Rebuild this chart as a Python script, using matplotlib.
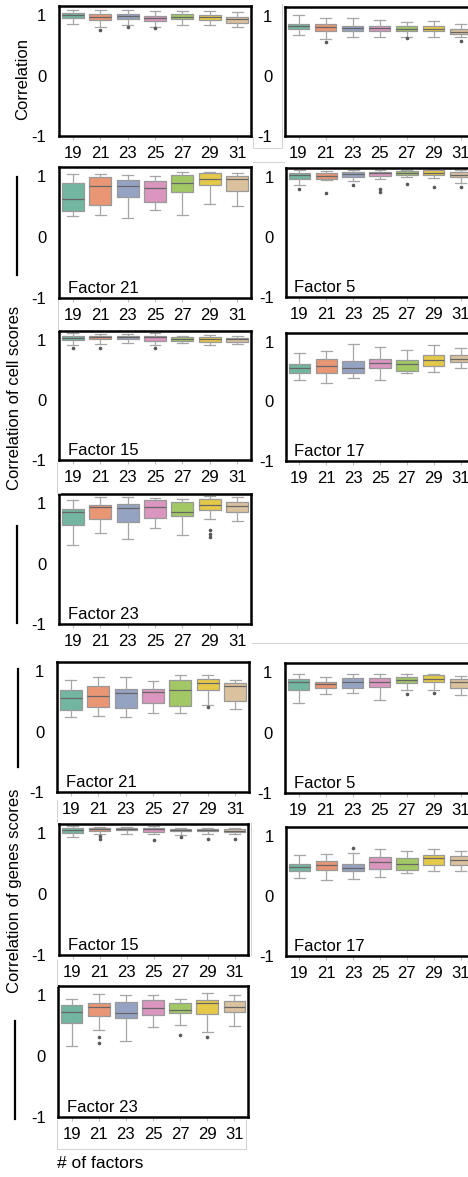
import colorsys
import numpy as np
import matplotlib
matplotlib.use("Agg")
import matplotlib.pyplot as plt
import matplotlib.colors as mcolors
from matplotlib.lines import Line2D

plt.rcParams['font.family'] = ['Liberation Sans', 'DejaVu Sans']
plt.rcParams['axes.unicode_minus'] = False

W, H = 468, 1177

n_factors = ["19", "21", "23", "25", "27", "29", "31"]
set2 = ["#66c2a5", "#fc8d62", "#8da0cb", "#e78ac3", "#a6d854", "#ffd92f", "#e5c494"]

# each row: whisker low, q1, median, q3, whisker high
corr_left = [[0.85, 0.95, 1.00, 1.03, 1.09], [0.80, 0.92, 0.97, 1.01, 1.08],
             [0.84, 0.94, 0.99, 1.02, 1.08], [0.81, 0.90, 0.95, 0.99, 1.06],
             [0.84, 0.93, 0.97, 1.01, 1.07], [0.84, 0.92, 0.96, 1.00, 1.07],
             [0.80, 0.87, 0.93, 0.96, 1.05]]
corr_left_fl = [[], [0.76], [0.81], [0.78], [], [], []]

corr_right = [[0.69, 0.79, 0.84, 0.87, 1.02], [0.62, 0.75, 0.82, 0.86, 0.96],
              [0.65, 0.75, 0.80, 0.84, 0.96], [0.65, 0.75, 0.80, 0.84, 0.94],
              [0.65, 0.75, 0.79, 0.83, 0.90], [0.65, 0.75, 0.79, 0.83, 0.92],
              [0.65, 0.70, 0.74, 0.78, 0.87]]
corr_right_fl = [[], [0.57], [], [], [0.64], [], [0.59]]

cell_f21 = [[0.35, 0.42, 0.63, 0.89, 1.03], [0.36, 0.53, 0.84, 0.99, 1.04],
            [0.32, 0.65, 0.84, 0.93, 1.02], [0.44, 0.58, 0.80, 0.92, 1.01],
            [0.37, 0.74, 0.89, 1.02, 1.06], [0.54, 0.85, 0.95, 1.05, 1.07],
            [0.51, 0.75, 0.96, 1.01, 1.05]]
cell_f21_fl = [[], [], [], [], [], [], []]

cell_f5 = [[0.86, 0.97, 1.03, 1.07, 1.11], [0.95, 0.97, 1.02, 1.06, 1.10],
           [0.93, 1.00, 1.05, 1.08, 1.12], [0.97, 1.02, 1.06, 1.08, 1.12],
           [1.00, 1.03, 1.07, 1.10, 1.12], [0.99, 1.03, 1.07, 1.11, 1.13],
           [0.90, 1.00, 1.04, 1.08, 1.12]]
cell_f5_fl = [[0.80], [0.74], [0.86], [0.80, 0.75], [0.89], [0.83], [0.84]]

cell_f15 = [[0.92, 1.00, 1.04, 1.07, 1.11], [0.93, 1.01, 1.05, 1.07, 1.10],
            [0.95, 1.01, 1.05, 1.07, 1.10], [0.92, 0.99, 1.05, 1.07, 1.11],
            [0.95, 0.99, 1.02, 1.05, 1.07], [0.92, 0.97, 1.01, 1.05, 1.08],
            [0.94, 0.97, 1.01, 1.04, 1.07]]
cell_f15_fl = [[0.87], [0.86], [], [0.86], [], [], []]

cell_f17 = [[0.36, 0.48, 0.56, 0.63, 0.82], [0.31, 0.48, 0.59, 0.72, 0.84],
            [0.39, 0.48, 0.56, 0.68, 0.96], [0.36, 0.56, 0.64, 0.72, 0.91],
            [0.48, 0.52, 0.63, 0.70, 0.87], [0.50, 0.60, 0.70, 0.78, 0.95],
            [0.57, 0.67, 0.72, 0.78, 0.89]]
cell_f17_fl = [[], [], [], [], [], [], []]

cell_f23 = [[0.31, 0.64, 0.85, 0.90, 1.05], [0.51, 0.73, 0.94, 0.97, 1.10],
            [0.41, 0.68, 0.92, 0.99, 1.10], [0.59, 0.76, 0.93, 1.05, 1.08],
            [0.47, 0.78, 0.86, 1.02, 1.07], [0.74, 0.88, 0.97, 1.06, 1.11],
            [0.70, 0.86, 0.95, 1.02, 1.10]]
cell_f23_fl = [[], [], [], [], [], [0.56, 0.49, 0.44], []]

gene_f21 = [[0.24, 0.35, 0.56, 0.69, 0.85], [0.25, 0.40, 0.58, 0.76, 0.90],
            [0.24, 0.39, 0.64, 0.71, 0.90], [0.31, 0.48, 0.65, 0.70, 0.83],
            [0.30, 0.42, 0.68, 0.85, 0.94], [0.44, 0.69, 0.81, 0.87, 0.94],
            [0.37, 0.50, 0.76, 0.80, 0.86]]
gene_f21_fl = [[], [], [], [], [], [0.40], []]

gene_f5 = [[0.49, 0.71, 0.84, 0.88, 0.96], [0.63, 0.73, 0.80, 0.84, 0.92],
           [0.66, 0.74, 0.84, 0.91, 0.96], [0.53, 0.75, 0.84, 0.91, 0.96],
           [0.70, 0.82, 0.87, 0.92, 0.96], [0.71, 0.84, 0.89, 0.95, 0.96],
           [0.62, 0.73, 0.84, 0.88, 0.93]]
gene_f5_fl = [[], [], [], [], [0.63], [0.65], []]

gene_f15 = [[0.94, 1.01, 1.05, 1.08, 1.11], [0.99, 1.03, 1.06, 1.08, 1.10],
            [0.99, 1.05, 1.07, 1.08, 1.10], [0.99, 1.02, 1.06, 1.08, 1.11],
            [0.97, 1.03, 1.05, 1.07, 1.09], [0.99, 1.03, 1.05, 1.07, 1.09],
            [0.99, 1.02, 1.04, 1.06, 1.08]]
gene_f15_fl = [[], [0.95, 0.90], [], [0.88], [0.93], [0.90], [0.91]]

gene_f17 = [[0.30, 0.42, 0.48, 0.53, 0.69], [0.26, 0.43, 0.52, 0.59, 0.70],
            [0.29, 0.41, 0.46, 0.53, 0.71], [0.31, 0.45, 0.56, 0.65, 0.78],
            [0.38, 0.44, 0.54, 0.64, 0.75], [0.41, 0.52, 0.63, 0.68, 0.79],
            [0.42, 0.52, 0.60, 0.67, 0.75]]
gene_f17_fl = [[], [], [0.80], [], [], [], []]

gene_f23 = [[0.17, 0.54, 0.72, 0.83, 0.94], [0.43, 0.65, 0.81, 0.87, 1.02],
            [0.25, 0.62, 0.71, 0.89, 1.01], [0.47, 0.67, 0.79, 0.92, 1.01],
            [0.51, 0.70, 0.76, 0.87, 0.94], [0.39, 0.69, 0.87, 0.92, 1.03],
            [0.49, 0.72, 0.81, 0.90, 1.01]]
gene_f23_fl = [[], [0.32, 0.22], [], [], [0.35], [0.32], []]


def desat(c, prop=0.75):
    r, g, b = mcolors.to_rgb(c)
    h, l, s = colorsys.rgb_to_hls(r, g, b)
    return colorsys.hls_to_rgb(h, l, s * prop)


colors = [desat(c) for c in set2]

fig = plt.figure(figsize=(W / 100, H / 100), dpi=100)


def panel(box, summ, fliers, title=None):
    l, t, r, b = box
    ax = fig.add_axes([l / W, 1 - b / H, (r - l) / W, (b - t) / H])
    stats = []
    for s, f in zip(summ, fliers):
        stats.append(dict(whislo=s[0], q1=s[1], med=s[2], q3=s[3], whishi=s[4], fliers=f))
    parts = ax.bxp(stats, positions=range(7), widths=0.8, patch_artist=True,
                   boxprops=dict(edgecolor='0.6', linewidth=0.9),
                   whiskerprops=dict(color='0.65', linewidth=0.9),
                   capprops=dict(color='0.65', linewidth=0.9),
                   medianprops=dict(color='0.4', linewidth=0.9),
                   flierprops=dict(marker='o', markersize=1.6, markerfacecolor='0.35',
                                   markeredgecolor='0.35'))
    for patch, c in zip(parts['boxes'], colors):
        patch.set_facecolor(c)
    ax.set_xlim(-0.5, 6.5)
    ax.set_ylim(-1, 1.15)
    ax.set_xticks(range(7))
    ax.set_xticklabels(n_factors, fontsize=12)
    ax.set_yticks([-1, 0, 1])
    ax.set_yticklabels(["-1", "0", "1"], fontsize=12)
    ax.tick_params(axis='x', length=3, color='0.75', width=0.8, pad=4)
    ax.tick_params(axis='y', length=0, pad=9)
    for sp in ax.spines.values():
        sp.set_linewidth(1.8)
        sp.set_color('black')
    if title:
        ax.text(0.045, 0.04, title, transform=ax.transAxes, fontsize=12,
                ha='left', va='baseline')
    return ax


panel((59, 6, 251, 136), corr_left, corr_left_fl)
panel((285, 7, 474, 136), corr_right, corr_right_fl)
panel((59, 167, 251, 298), cell_f21, cell_f21_fl, "Factor 21")
panel((286, 168, 474, 297), cell_f5, cell_f5_fl, "Factor 5")
panel((59, 331, 251, 460), cell_f15, cell_f15_fl, "Factor 15")
panel((286, 333, 474, 461), cell_f17, cell_f17_fl, "Factor 17")
panel((59, 494, 251, 624), cell_f23, cell_f23_fl, "Factor 23")
panel((57, 662, 249, 792), gene_f21, gene_f21_fl, "Factor 21")
panel((285, 663, 474, 793), gene_f5, gene_f5_fl, "Factor 5")
panel((59, 824, 248, 955), gene_f15, gene_f15_fl, "Factor 15")
panel((286, 827, 474, 956), gene_f17, gene_f17_fl, "Factor 17")
panel((58, 986, 248, 1117), gene_f23, gene_f23_fl, "Factor 23")


def ftxt(x, y, s, **kw):
    fig.text(x / W, 1 - y / H, s, **kw)


def fline(xs, ys, **kw):
    fig.add_artist(Line2D([x / W for x in xs], [1 - y / H for y in ys], **kw))


ftxt(23, 79, "Correlation", rotation=90, ha='center', va='center', fontsize=12)
ftxt(15, 398, "Correlation of cell scores", rotation=90, ha='center', va='center', fontsize=12)
ftxt(15, 891, "Correlation of genes scores", rotation=90, ha='center', va='center', fontsize=12)
ftxt(57, 1163, "# of factors", ha='left', va='center', fontsize=12.5)

# black bars next to the shared y labels
for x, y0, y1 in [(17, 177, 275), (17, 526, 623), (18, 669, 767), (15, 1021, 1119)]:
    fline([x, x], [y0, y1], color='black', linewidth=1.6)

# faint frames left over from the pasted panels
grey = dict(color='0.82', linewidth=0.7)
fline([253, 253, 282, 282], [137, 148, 148, 4], **grey)
fline([253, 284], [162, 162], **grey)
fline([58, 58], [300, 330], **grey)
fline([57, 57, 60], [462, 493, 493], **grey)
fline([252, 468], [643, 643], **grey)
fline([57, 57], [800, 822], **grey)
fline([251, 251], [823, 955], **grey)
fline([57, 57], [960, 986], **grey)
fline([57, 57, 246, 246], [1120, 1149, 1149, 1120], **grey)

fig.savefig("out.png", dpi=100)
